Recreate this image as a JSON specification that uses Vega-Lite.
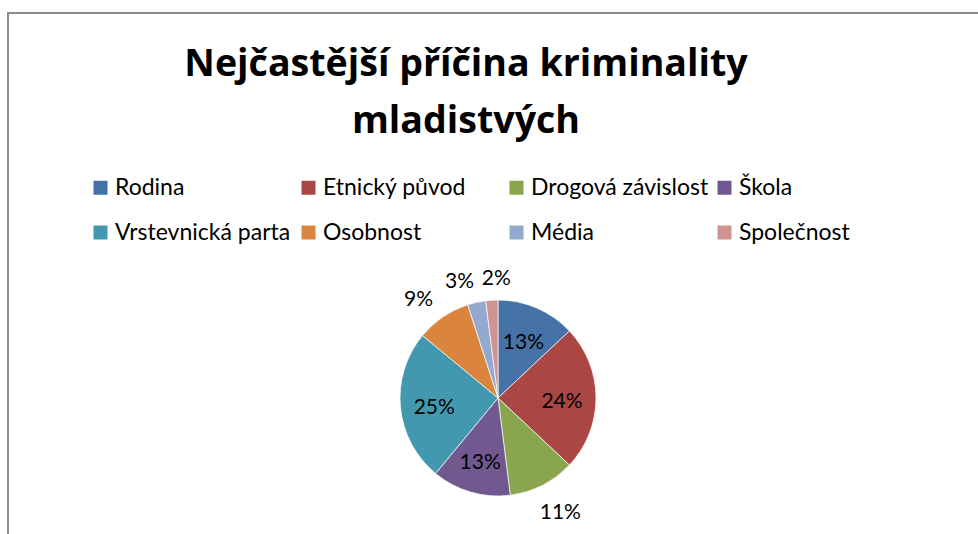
{
  "$schema": "https://vega.github.io/schema/vega-lite/v6.json",
  "autosize": {"type": "none"},
  "padding": {"left": 8, "top": 13, "right": -10, "bottom": -249},
  "width": 980,
  "height": 770,
  "background": "white",
  "view": {"stroke": "#8c8c8c", "strokeWidth": 2},
  "title": {
    "text": ["Nejčastější příčina kriminality", "mladistvých"],
    "font": "Open Sans",
    "fontSize": 37.6,
    "fontWeight": "bold",
    "color": "#000000",
    "lineHeight": 57,
    "anchor": "middle",
    "frame": "group",
    "baseline": "alphabetic",
    "offset": 0,
    "dx": -32,
    "dy": 158
  },
  "data": {
    "values": [
      {"category": "Rodina", "share": 0.13, "idx": 1},
      {"category": "Etnický původ", "share": 0.24, "idx": 2},
      {"category": "Drogová závislost", "share": 0.11, "idx": 3},
      {"category": "Škola", "share": 0.13, "idx": 4},
      {"category": "Vrstevnická parta", "share": 0.25, "idx": 5},
      {"category": "Osobnost", "share": 0.09, "idx": 6},
      {"category": "Média", "share": 0.03, "idx": 7},
      {"category": "Společnost", "share": 0.02, "idx": 8}
    ]
  },
  "encoding": {
    "theta": {"field": "share", "type": "quantitative", "stack": true},
    "order": {"field": "idx", "type": "quantitative"}
  },
  "layer": [
    {
      "mark": {"type": "arc", "radius": 98, "stroke": "#ffffff", "strokeWidth": 0.7},
      "encoding": {
        "color": {
          "field": "category",
          "type": "nominal",
          "scale": {
            "domain": ["Rodina", "Etnický původ", "Drogová závislost", "Škola", "Vrstevnická parta", "Osobnost", "Média", "Společnost"],
            "range": ["#4572A7", "#AA4643", "#89A54E", "#71588F", "#4198AF", "#DB843D", "#93A9CF", "#D19392"]
          },
          "legend": {
            "title": null,
            "orient": "none",
            "legendX": 81,
            "legendY": 163,
            "columns": 4,
            "direction": "horizontal",
            "gridAlign": "all",
            "columnPadding": 4,
            "rowPadding": 21,
            "padding": 0,
            "symbolType": "square",
            "symbolSize": 196,
            "symbolStrokeWidth": 0,
            "labelFont": "Lato",
            "labelFontSize": 23,
            "labelColor": "#000000",
            "labelOffset": 3,
            "labelLimit": 400
          }
        }
      }
    },
    {
      "mark": {"type": "text", "radius": 64, "font": "Lato", "fontSize": 21, "color": "#000000", "align": "center", "baseline": "middle", "dy": 4},
      "encoding": {
        "text": {
          "condition": {"test": "datum.share >= 0.12", "field": "share", "type": "quantitative", "format": ".0%"},
          "value": ""
        }
      }
    },
    {
      "mark": {"type": "text", "radius": 119, "font": "Lato", "fontSize": 21, "color": "#000000", "align": "right", "baseline": "middle", "dx": 2},
      "encoding": {
        "text": {
          "condition": {"test": "datum.category === 'Osobnost' || datum.category === 'Média'", "field": "share", "type": "quantitative", "format": ".0%"},
          "value": ""
        }
      }
    },
    {
      "mark": {"type": "text", "radius": 124, "font": "Lato", "fontSize": 21, "color": "#000000", "align": "center", "baseline": "middle", "dx": 6, "dy": 5},
      "encoding": {
        "text": {
          "condition": {"test": "datum.category === 'Společnost' || datum.category === 'Drogová závislost'", "field": "share", "type": "quantitative", "format": ".0%"},
          "value": ""
        }
      }
    }
  ]
}
